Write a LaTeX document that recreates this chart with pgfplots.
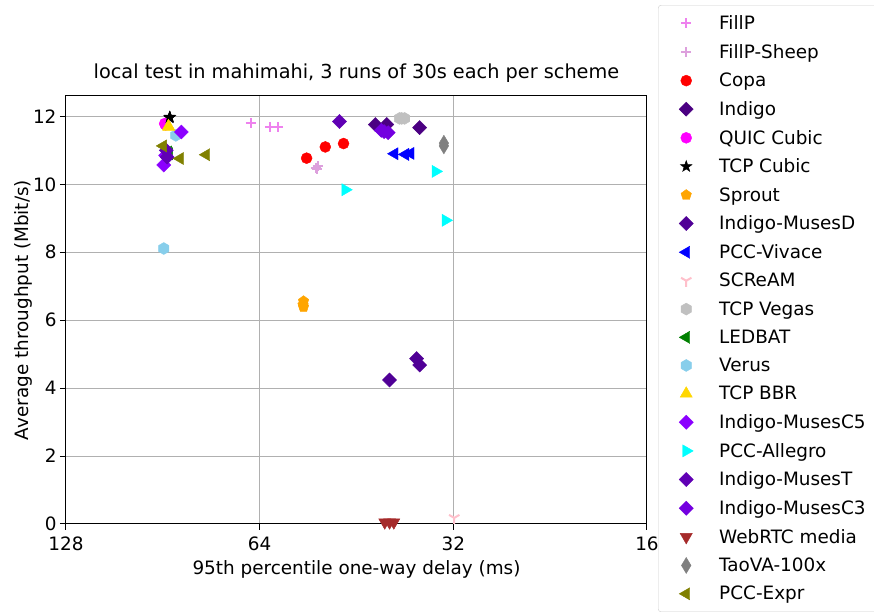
\documentclass[border=0pt]{standalone}
\usepackage{fontspec}
\setmainfont{DejaVu Sans}
\usepackage{pgfplots}
\pgfplotsset{compat=1.18}
\usetikzlibrary{plotmarks}

% matplotlib-like hexagon, filled star and tri_down marks
\pgfdeclareplotmark{hexagon*}{%
  \pgfpathmoveto{\pgfqpointpolar{90}{\pgfplotmarksize}}%
  \pgfpathlineto{\pgfqpointpolar{150}{\pgfplotmarksize}}%
  \pgfpathlineto{\pgfqpointpolar{210}{\pgfplotmarksize}}%
  \pgfpathlineto{\pgfqpointpolar{270}{\pgfplotmarksize}}%
  \pgfpathlineto{\pgfqpointpolar{330}{\pgfplotmarksize}}%
  \pgfpathlineto{\pgfqpointpolar{30}{\pgfplotmarksize}}%
  \pgfpathclose
  \pgfusepathqfillstroke}
\pgfdeclareplotmark{fstar}{%
  \pgfpathmoveto{\pgfqpointpolar{90}{\pgfplotmarksize}}%
  \pgfpathlineto{\pgfqpointpolar{126}{0.4\pgfplotmarksize}}%
  \pgfpathlineto{\pgfqpointpolar{162}{\pgfplotmarksize}}%
  \pgfpathlineto{\pgfqpointpolar{198}{0.4\pgfplotmarksize}}%
  \pgfpathlineto{\pgfqpointpolar{234}{\pgfplotmarksize}}%
  \pgfpathlineto{\pgfqpointpolar{270}{0.4\pgfplotmarksize}}%
  \pgfpathlineto{\pgfqpointpolar{306}{\pgfplotmarksize}}%
  \pgfpathlineto{\pgfqpointpolar{342}{0.4\pgfplotmarksize}}%
  \pgfpathlineto{\pgfqpointpolar{18}{\pgfplotmarksize}}%
  \pgfpathlineto{\pgfqpointpolar{54}{0.4\pgfplotmarksize}}%
  \pgfpathclose
  \pgfusepathqfillstroke}
\pgfdeclareplotmark{tridown}{%
  \pgfpathmoveto{\pgfqpoint{0pt}{0pt}}\pgfpathlineto{\pgfqpointpolar{270}{\pgfplotmarksize}}%
  \pgfpathmoveto{\pgfqpoint{0pt}{0pt}}\pgfpathlineto{\pgfqpointpolar{30}{\pgfplotmarksize}}%
  \pgfpathmoveto{\pgfqpoint{0pt}{0pt}}\pgfpathlineto{\pgfqpointpolar{150}{\pgfplotmarksize}}%
  \pgfusepathqstroke}

\definecolor{cfillp}{HTML}{EE82EE}
\definecolor{csheep}{HTML}{DDA0DD}
\definecolor{ccopa}{HTML}{FF0000}
\definecolor{cindigo}{HTML}{4B0082}
\definecolor{cquic}{HTML}{FF00FF}
\definecolor{csprout}{HTML}{FFA500}
\definecolor{cmusesd}{HTML}{500096}
\definecolor{cvivace}{HTML}{0000FF}
\definecolor{cscream}{HTML}{FFC0CB}
\definecolor{cvegas}{HTML}{C0C0C0}
\definecolor{cledbat}{HTML}{008000}
\definecolor{cverus}{HTML}{87CEEB}
\definecolor{cbbr}{HTML}{FFD700}
\definecolor{cmusesc5}{HTML}{8B00FF}
\definecolor{callegro}{HTML}{00FFFF}
\definecolor{cmusest}{HTML}{6000B4}
\definecolor{cmusesc3}{HTML}{7400E0}
\definecolor{cwebrtc}{HTML}{A52A2A}
\definecolor{ctaova}{HTML}{808080}
\definecolor{cexpr}{HTML}{808000}

\newcommand{\lblfont}{\fontsize{18.4}{22}\selectfont}

\pgfplotsset{
  sc/.style={only marks,
    legend image code/.code={\path (-14pt,0pt) (30pt,0pt); \draw[##1] plot coordinates {(0pt,0pt)};}},
  dia/.style={sc, mark=square*, mark size=5pt, mark options={rotate=45}},
  tri/.style={sc, mark=triangle*, mark size=7pt, mark options={rotate=#1}},
}

\begin{document}
\begin{tikzpicture}
\path[use as bounding box] (0,0) rectangle (874pt,612pt);
\begin{axis}[
  at={(66pt,88pt)}, anchor=south west,
  width=581pt, height=428pt, scale only axis,
  xmode=log, log basis x=2, x dir=reverse,
  xmin=16, xmax=128,
  xtick={16,32,64,128}, xticklabels={16,32,64,128},
  ymin=0, ymax=12.6,
  ytick={0,2,4,6,8,10,12},
  /pgf/number format/assume math mode=true,
  tick label style={font=\lblfont},
  xticklabel style={yshift=-3pt},
  label style={font=\lblfont},
  xlabel style={yshift=-3pt},
  ylabel style={yshift=-6pt},
  title style={font=\fontsize{19.3}{23}\selectfont, yshift=4pt},
  title={local test in mahimahi, 3 runs of 30s each per scheme},
  xlabel={95th percentile one-way delay (ms)},
  ylabel={Average throughput (Mbit/s)},
  tick pos=left, tick align=outside,
  major tick length=6pt,
  every tick/.style={black, line width=1pt},
  minor tick num=0,
  axis line style={line width=1pt},
  grid=major,
  major grid style={color=black!31, line width=1pt},
  legend style={at={(1.019,1.2126)}, anchor=north west,
    draw=black!20, rounded corners=3pt, fill=white,
    font=\lblfont, row sep=9.2pt, inner xsep=13pt, inner ysep=8.5pt},
  legend cell align=left,
]
\addplot[sc, color=cfillp, mark=+, mark size=5pt, line width=2pt]
  coordinates {(66.1,11.80) (61.7,11.68) (59.9,11.68)};
\addlegendentry{FillP}
\addplot[sc, color=csheep, mark=+, mark size=5pt, line width=2pt]
  coordinates {(52.2,10.45) (52.0,10.53) (52.4,10.49)};
\addlegendentry{FillP-Sheep}
\addplot[sc, color=ccopa, mark=*, mark size=5.5pt]
  coordinates {(54.1,10.77) (50.6,11.10) (47.4,11.20)};
\addlegendentry{Copa}
\addplot[dia, color=cindigo]
  coordinates {(42.3,11.76) (40.6,11.76) (36.1,11.67)};
\addlegendentry{Indigo}
\addplot[sc, color=cquic, mark=*, mark size=5.5pt]
  coordinates {(89.9,11.79) (89.6,11.75) (89.8,11.77)};
\addlegendentry{QUIC Cubic}
\addplot[sc, color=black, mark=fstar, mark size=6pt]
  coordinates {(88.3,11.98) (88.4,11.96) (88.2,11.97)};
\addlegendentry{TCP Cubic}
\addplot[sc, color=csprout, mark=pentagon*, mark size=5.5pt]
  coordinates {(54.7,6.56) (54.7,6.39) (54.8,6.45)};
\addlegendentry{Sprout}
\addplot[dia, color=cmusesd]
  coordinates {(40.2,4.24) (36.5,4.87) (36.1,4.68)};
\addlegendentry{Indigo-MusesD}
\addplot[tri=90, color=cvivace]
  coordinates {(39.5,10.90) (38.0,10.88) (37.3,10.91)};
\addlegendentry{PCC-Vivace}
\addplot[sc, color=cscream, mark=tridown, mark size=6pt, line width=2pt]
  coordinates {(31.9,0.18)};
\addlegendentry{SCReAM}
\addplot[sc, color=cvegas, mark=hexagon*, mark size=6pt]
  coordinates {(38.8,11.94) (38.1,11.94) (38.5,11.94)};
\addlegendentry{TCP Vegas}
\addplot[tri=90, color=cledbat]
  coordinates {(88.5,10.90) (88.8,10.95)};
\addlegendentry{LEDBAT}
\addplot[sc, color=cverus, mark=hexagon*, mark size=6pt]
  coordinates {(90.2,8.11) (86.4,11.44)};
\addlegendentry{Verus}
\addplot[tri=0, color=cbbr]
  coordinates {(88.7,11.71) (88.6,11.68)};
\addlegendentry{TCP BBR}
\addplot[dia, color=cmusesc5]
  coordinates {(84.7,11.54) (90.2,10.57) (89.6,10.85)};
\addlegendentry{Indigo-MusesC5}
\addplot[tri=-90, color=callegro]
  coordinates {(34.1,10.38) (47.1,9.84) (32.9,8.94)};
\addlegendentry{PCC-Allegro}
\addplot[dia, color=cmusest]
  coordinates {(48.1,11.85) (89.4,11.00) (89.1,10.80)};
\addlegendentry{Indigo-MusesT}
\addplot[dia, color=cmusesc3]
  coordinates {(41.4,11.59) (40.4,11.52) (41.0,11.55)};
\addlegendentry{Indigo-MusesC3}
\addplot[tri=180, color=cwebrtc]
  coordinates {(40.9,0.05) (39.6,0.05) (40.2,0.05)};
\addlegendentry{WebRTC media}
\addplot[sc, color=ctaova, mark=diamond*, mark size=8pt, mark options={xscale=0.8}]
  coordinates {(33.1,11.13) (33.1,11.21)};
\addlegendentry{TaoVA-100x}
\addplot[tri=90, color=cexpr]
  coordinates {(90.4,11.13) (85.1,10.76) (77.5,10.87)};
\addlegendentry{PCC-Expr}
\end{axis}
\end{tikzpicture}
\end{document}
